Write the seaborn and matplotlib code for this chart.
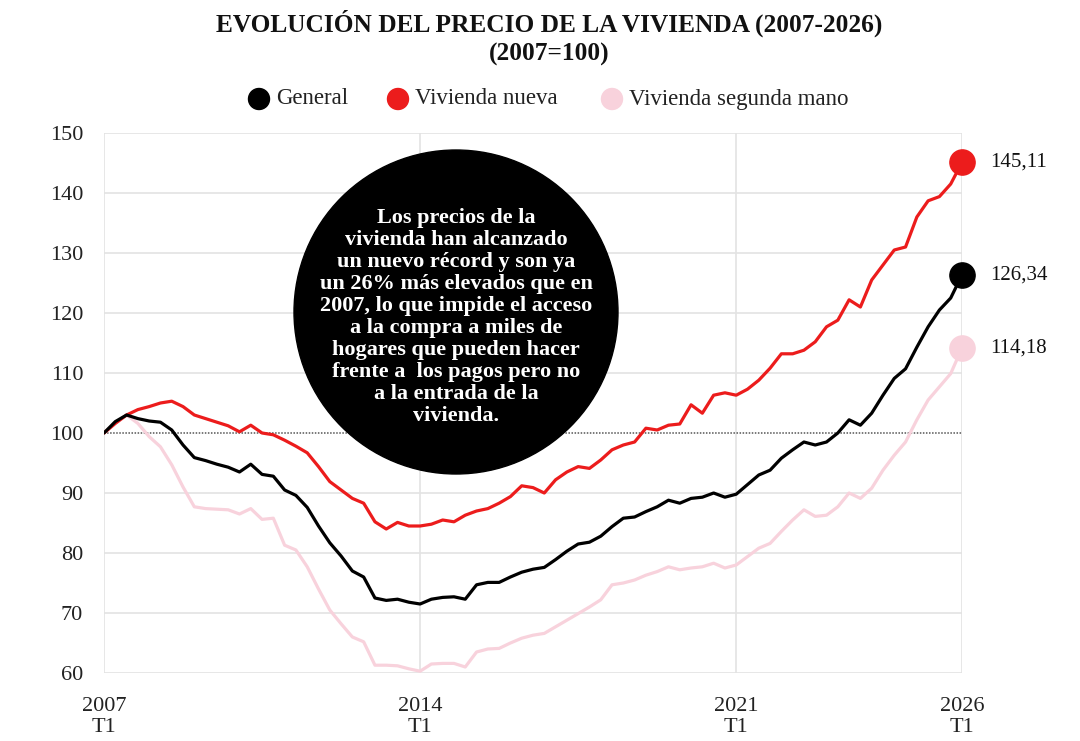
import numpy as np
import pandas as pd
import matplotlib
matplotlib.use('Agg')
import matplotlib.pyplot as plt
import matplotlib.patches as mpatches
import seaborn as sns

# Quarterly index values, 2007 T1 .. 2026 T1 (2007 = 100)
general = [100.0, 101.9, 103.0, 102.4, 102.0, 101.8, 100.5, 98.0, 95.9, 95.4,
           94.8, 94.3, 93.5, 94.8, 93.1, 92.8, 90.5, 89.6, 87.6, 84.5,
           81.7, 79.5, 77.0, 76.0, 72.5, 72.1, 72.3, 71.8, 71.5, 72.3,
           72.6, 72.7, 72.3, 74.7, 75.1, 75.1, 76.0, 76.8, 77.3, 77.6,
           78.9, 80.3, 81.5, 81.8, 82.8, 84.4, 85.8, 86.0, 86.9, 87.7,
           88.8, 88.3, 89.1, 89.3, 90.0, 89.3, 89.8, 91.4, 93.0, 93.8,
           95.8, 97.2, 98.5, 98.0, 98.5, 100.0, 102.2, 101.3, 103.3, 106.3,
           109.1, 110.7, 114.3, 117.7, 120.5, 122.5, 126.34]
nueva = [100.0, 101.6, 103.0, 103.9, 104.4, 105.0, 105.3, 104.4, 103.0, 102.4,
         101.8, 101.2, 100.2, 101.3, 100.0, 99.7, 98.8, 97.8, 96.7, 94.4,
         91.9, 90.5, 89.1, 88.3, 85.2, 84.0, 85.1, 84.5, 84.5, 84.8,
         85.5, 85.2, 86.3, 87.0, 87.4, 88.3, 89.4, 91.2, 90.9, 90.0,
         92.2, 93.5, 94.4, 94.1, 95.5, 97.2, 98.0, 98.5, 100.8, 100.5,
         101.3, 101.5, 104.7, 103.3, 106.3, 106.7, 106.3, 107.3, 108.8, 110.8,
         113.2, 113.2, 113.8, 115.2, 117.7, 118.8, 122.2, 121.0, 125.5, 128.0,
         130.5, 131.0, 136.0, 138.7, 139.4, 141.5, 145.11]
segunda = [100.0, 101.6, 103.0, 101.6, 99.4, 97.7, 94.7, 91.0, 87.7, 87.4,
           87.3, 87.2, 86.5, 87.4, 85.6, 85.8, 81.3, 80.5, 77.7, 74.0,
           70.5, 68.2, 66.0, 65.2, 61.3, 61.3, 61.2, 60.7, 60.3, 61.5,
           61.6, 61.6, 61.0, 63.5, 64.0, 64.1, 65.0, 65.8, 66.3, 66.6,
           67.7, 68.8, 69.9, 71.0, 72.2, 74.7, 75.0, 75.5, 76.3, 76.9,
           77.7, 77.2, 77.5, 77.7, 78.3, 77.5, 78.0, 79.4, 80.8, 81.6,
           83.6, 85.5, 87.2, 86.1, 86.3, 87.7, 90.0, 89.1, 90.8, 93.8,
           96.3, 98.5, 102.2, 105.5, 107.7, 109.9, 114.18]

series_names = ['General', 'Vivienda nueva', 'Vivienda segunda mano']
colors = ['#000000', '#ec1c1c', '#f8d2dc']
end_labels = ['126,34', '145,11', '114,18']
tick_years = [2007, 2014, 2021, 2026]

quarters = np.arange(len(general))
df = pd.DataFrame({'q': np.tile(quarters, 3),
                   'valor': general + nueva + segunda,
                   'serie': np.repeat(series_names, len(general))})

sns.set_theme(style='white')
plt.rcParams['font.family'] = ['Liberation Serif', 'DejaVu Serif']

fig = plt.figure(figsize=(10.8, 7.41), dpi=100)
ax = fig.add_axes([104 / 1080, 1 - 673 / 741, 858 / 1080, 540 / 741])

# grid
for v in range(60, 151, 10):
    if v != 100:
        ax.axhline(v, color='#e3e3e3', lw=1.2, zorder=0)
for yr in tick_years:
    ax.axvline((yr - 2007) * 4, color='#e3e3e3', lw=1.2, zorder=0)
ax.axhline(100, color='#555555', lw=1.1, ls=(0, (1, 1)), zorder=1)

# draw pink first so red and black sit on top
order = ['Vivienda segunda mano', 'Vivienda nueva', 'General']
sns.lineplot(data=df, x='q', y='valor', hue='serie', hue_order=order,
             palette=dict(zip(series_names, colors)), linewidth=2.3,
             legend=False, ax=ax, zorder=3)

for name, col, lab in zip(series_names, colors, end_labels):
    last = df[df.serie == name].iloc[-1]
    ax.scatter(last.q, last.valor, s=330, color=col, zorder=5, clip_on=False)
    ax.annotate(lab, (last.q, last.valor), xytext=(20, 0), textcoords='offset points',
                va='center', ha='left', fontsize=15, color='#111111')

ax.set_xlim(0, 76)
ax.set_ylim(60, 150)
ax.set_yticks(range(60, 151, 10))
ax.set_xticks([(yr - 2007) * 4 for yr in tick_years])
ax.set_xticklabels([f'{yr}\nT1' for yr in tick_years], linespacing=1.15)
ax.tick_params(axis='y', labelsize=16, pad=15, colors='#222222', length=0)
ax.tick_params(axis='x', labelsize=16, pad=17, colors='#222222', length=0)
ax.set_xlabel('')
ax.set_ylabel('')
for s in ax.spines.values():
    s.set_visible(False)

# annotation circle
fig.patches.append(mpatches.Circle((456, 741 - 312), 162, transform=None,
                                   color='black', zorder=10))
fig.text(456 / 1080, 1 - 317 / 741,
         'Los precios de la\nvivienda han alcanzado\nun nuevo récord y son ya\n'
         'un 26% más elevados que en\n2007, lo que impide el acceso\n'
         'a la compra a miles de\nhogares que pueden hacer\nfrente a  los pagos pero no\n'
         'a la entrada de la\nvivienda.',
         ha='center', va='center', color='white', fontsize=16, fontweight='bold',
         linespacing=1.13, zorder=11)

# title
fig.text(549 / 1080, 1 - 23 / 741, 'EVOLUCIÓN DEL PRECIO DE LA VIVIENDA (2007-2026)',
         ha='center', va='center', fontsize=18.3, fontweight='bold', color='#111111')
fig.text(549 / 1080, 1 - 54 / 741, '(2007=100)',
         ha='center', va='center', fontsize=18.3, fontweight='bold', color='#111111')

# legend
leg_x = [259, 398, 612]
for x0, name, col in zip(leg_x, series_names, colors):
    fig.patches.append(mpatches.Circle((x0, 741 - 99), 10.5, transform=None, color=col))
    fig.text((x0 + 17) / 1080, 1 - 99 / 741, name, ha='left', va='center',
             fontsize=16.5, color='#222222')

fig.savefig('out.png', dpi=100)
